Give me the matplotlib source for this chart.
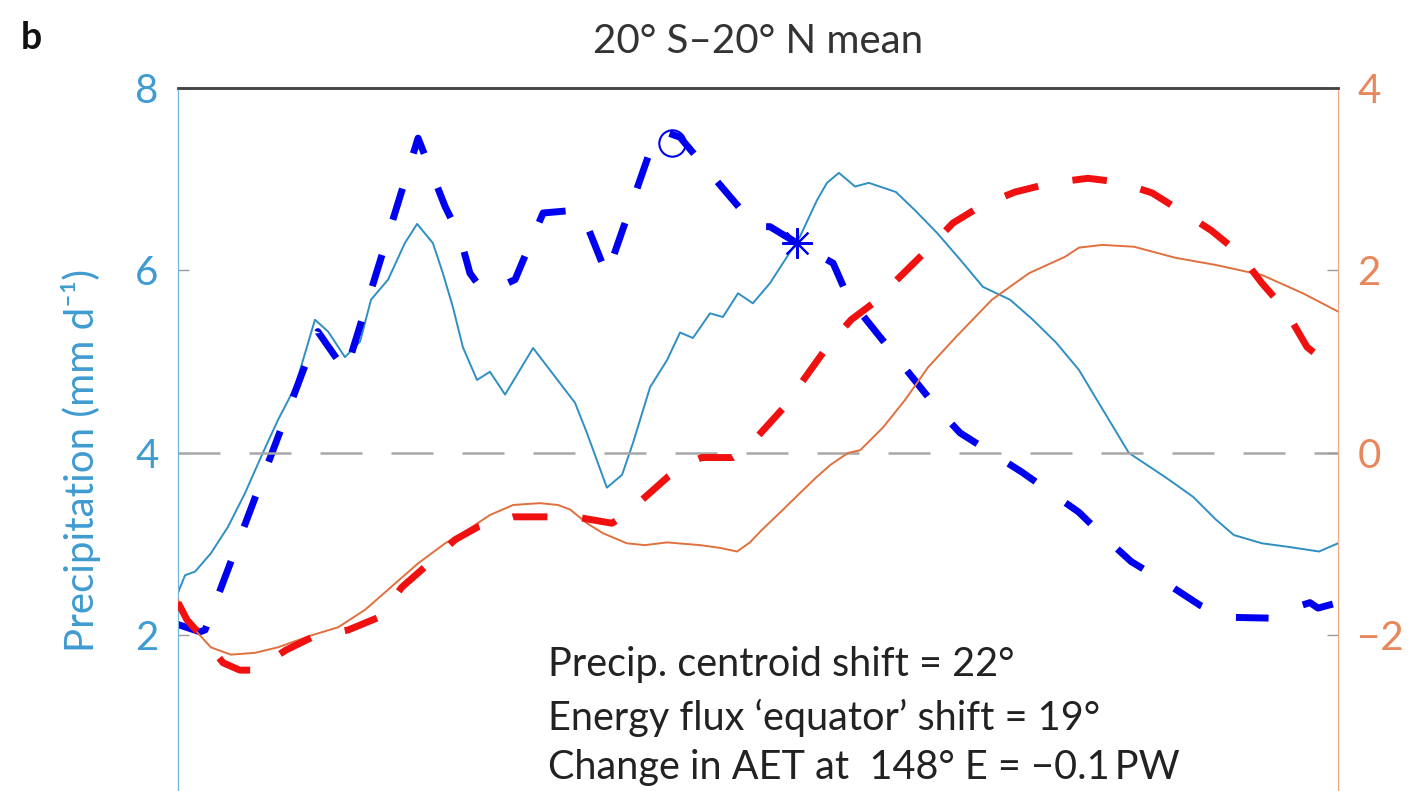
import matplotlib
matplotlib.use("Agg")
import matplotlib.pyplot as plt

plt.rcParams['font.family'] = ['Lato', 'DejaVu Sans']

# observed precipitation (left axis, mm/day) vs longitude
obs_lon = [0, 2.2, 5.3, 10.2, 15.5, 20.8, 25.8, 31.0, 36.3, 42.5, 46.6, 51.8, 56.5, 59.9,
           65.2, 70.4, 74.2, 79.1, 82.2, 85.3, 88.4, 92.8, 96.8, 101.5, 110.2, 115.4,
           123.2, 126.9, 133.1, 137.8, 141.2, 146.5, 151.8, 155.8, 159.8, 165.1, 169.1,
           173.8, 178.4, 183.7, 189.0, 193.0, 198.3, 201.4, 205.1, 210.1, 214.4, 222.8,
           228.7, 235.6, 242.7, 249.8, 258.2, 265.3, 272.5, 279.6, 285.2, 295.1, 306.6,
           315.0, 322.1, 327.7, 336.4, 344.8, 354.1, 360]
obs_precip = [2.47, 2.66, 2.70, 2.90, 3.19, 3.56, 3.96, 4.36, 4.72, 5.46, 5.33, 5.05, 5.22,
              5.68, 5.90, 6.30, 6.51, 6.30, 5.97, 5.60, 5.16, 4.80, 4.89, 4.64, 5.15, 4.91,
              4.55, 4.22, 3.62, 3.76, 4.11, 4.72, 5.02, 5.32, 5.26, 5.53, 5.49, 5.75, 5.64,
              5.86, 6.15, 6.37, 6.77, 6.96, 7.07, 6.92, 6.96, 6.86, 6.66, 6.41, 6.12, 5.82,
              5.68, 5.46, 5.21, 4.91, 4.58, 4.00, 3.73, 3.52, 3.27, 3.10, 3.01, 2.97, 2.92,
              3.01]

# model precipitation (left axis)
mod_lon = [0, 6.8, 8.4, 43.4, 52.1, 74.5, 82.9, 87.5, 90.6, 93.7, 97.8, 104.6, 113.3,
           123.2, 125.4, 133.1, 147.4, 151.1, 155.8, 169.1, 176.6, 179.1, 183.7, 192.1,
           203.3, 207.9, 235.6, 242.7, 261.9, 279.6, 287.4, 295.8, 305.1, 317.2, 324.9,
           338.9, 346.9, 351.3, 353.8, 360]
mod_precip = [2.12, 2.04, 2.06, 5.33, 4.89, 7.45, 6.70, 6.37, 5.97, 5.82, 5.79, 5.90, 6.63,
              6.66, 6.63, 5.95, 7.40, 7.52, 7.46, 6.90, 6.59, 6.48, 6.48, 6.30, 6.08, 5.71,
              4.49, 4.22, 3.79, 3.35, 3.08, 2.81, 2.61, 2.33, 2.20, 2.19, 2.31, 2.36, 2.30,
              2.36]

# observed energy transport (right axis, PW)
aet_lon = [0, 5.3, 10.2, 16.4, 23.9, 31.0, 41.3, 49.7, 58.0, 66.1, 74.5, 82.9, 90.0, 96.8,
           104.0, 112.3, 117.9, 121.7, 126.9, 131.9, 139.3, 144.9, 151.8, 162.0, 168.2,
           173.5, 177.5, 181.0, 187.8, 193.0, 198.3, 202.5, 207.9, 211.7, 218.8, 225.6,
           232.8, 241.4, 252.6, 264.1, 275.3, 279.6, 286.8, 296.7, 309.4, 322.1, 336.4,
           349.1, 360]
aet = [-1.61, -1.94, -2.13, -2.21, -2.19, -2.13, -2.00, -1.91, -1.72, -1.47, -1.21, -0.99,
       -0.84, -0.68, -0.57, -0.55, -0.57, -0.62, -0.77, -0.88, -0.99, -1.01, -0.98, -1.01,
       -1.04, -1.08, -0.98, -0.85, -0.62, -0.44, -0.26, -0.13, 0.00, 0.03, 0.28, 0.58,
       0.94, 1.27, 1.68, 1.97, 2.15, 2.25, 2.28, 2.26, 2.14, 2.06, 1.95, 1.75, 1.55]

# model energy transport (right axis)
maet_lon = [0, 2.8, 8.4, 14.0, 19.2, 23.9, 33.5, 41.6, 52.8, 62.4, 69.5, 77.9, 86.0, 93.1,
            104.0, 113.9, 124.8, 134.7, 138.7, 152.1, 158.9, 162.6, 172.2, 176.0, 187.8,
            201.4, 208.9, 215.7, 231.5, 240.5, 249.8, 259.8, 271.2, 282.4, 291.7, 302.3,
            312.2, 320.6, 329.3, 336.4, 343.6, 350.4, 360]
maet = [-1.64, -1.83, -2.05, -2.30, -2.38, -2.38, -2.16, -2.02, -1.94, -1.80, -1.47, -1.21,
        -0.95, -0.81, -0.70, -0.70, -0.71, -0.77, -0.68, -0.26, -0.10, -0.05, -0.05, 0.03,
        0.49, 1.16, 1.46, 1.64, 2.19, 2.52, 2.72, 2.86, 2.96, 3.01, 2.97, 2.85, 2.63, 2.44,
        2.19, 1.86, 1.57, 1.16, 0.89]

circle_pt = (153.3, 7.40)
star_pt = (192.1, 6.30)

notes = ["Precip. centroid shift = 22°",
         "Energy flux \u2018equator\u2019 shift = 19°",
         "Change in AET at  148° E = \u22120.1\u2009PW"]
notes_lon = 114.8
notes_y = [1.68, 1.10, 0.55]

c_left = '#3f9bd1'
c_right = '#e8875c'

fig = plt.figure(figsize=(14.15, 7.91), dpi=100)
ax = fig.add_axes([0.1258, -0.0341, 0.8198, 0.9229])
ax2 = ax.twinx()

ax.set_xlim(0, 360)
ax.set_ylim(0, 8)
ax2.set_ylim(-4, 4)
ax.set_xticks([])

ax2.axhline(0, color='#a8a8a8', lw=1.8, ls=(0, (16.8, 11.6)), zorder=1)

ax.plot(obs_lon, obs_precip, color='#2f8fc4', lw=1.4, zorder=3)
ax.plot(mod_lon, mod_precip, color='#0000f0', lw=5, ls=(0, (4.7, 5.3)), zorder=4)
ax.plot(*circle_pt, marker='o', ms=19, mfc='none', mec='#0000f0', mew=1.5, zorder=5)
ax.plot(*star_pt, marker=(8, 2, 0), ms=22, mec='#0000f0', mew=1.5, zorder=5)

ax2.plot(aet_lon, aet, color='#e0703e', lw=1.4, zorder=3)
ax2.plot(maet_lon, maet, color='#f01010', lw=5, ls=(0, (5, 5)), zorder=4)

ax.set_yticks([2, 4, 6, 8])
ax2.set_yticks([-2, 0, 2, 4])
ax2.set_yticklabels(['\u22122', '0', '2', '4'])
ax.tick_params(axis='y', direction='in', length=8, width=1, colors='#999999',
               labelcolor=c_left, labelsize=29, pad=14)
ax2.tick_params(axis='y', direction='in', length=8, width=1, colors='#999999',
                labelcolor=c_right, labelsize=29, pad=14)
ax.set_ylabel('Precipitation (mm d\u207b\u00b9)', color=c_left, fontsize=29)
ax.yaxis.set_label_coords(-0.066, 0.489)

for a in (ax, ax2):
    a.spines['left'].set_color('#6fb3dc')
    a.spines['right'].set_color('#f2a885')
    a.spines['top'].set_color('#444444')
    a.spines['top'].set_linewidth(1.8)
    a.spines['bottom'].set_visible(False)
    a.patch.set_visible(False)

for s, y in zip(notes, notes_y):
    ax.text(notes_lon, y, s, fontsize=28.5, color='#222222', va='center', ha='left', zorder=6)

fig.text(0.5357, 0.947, '20° S\u201320° N mean', fontsize=29, color='#333333', ha='center', va='center')
fig.text(0.015, 0.952, 'b', fontsize=27, fontweight='bold', color='#111111', ha='left', va='center')

fig.savefig('out.png', dpi=100)
